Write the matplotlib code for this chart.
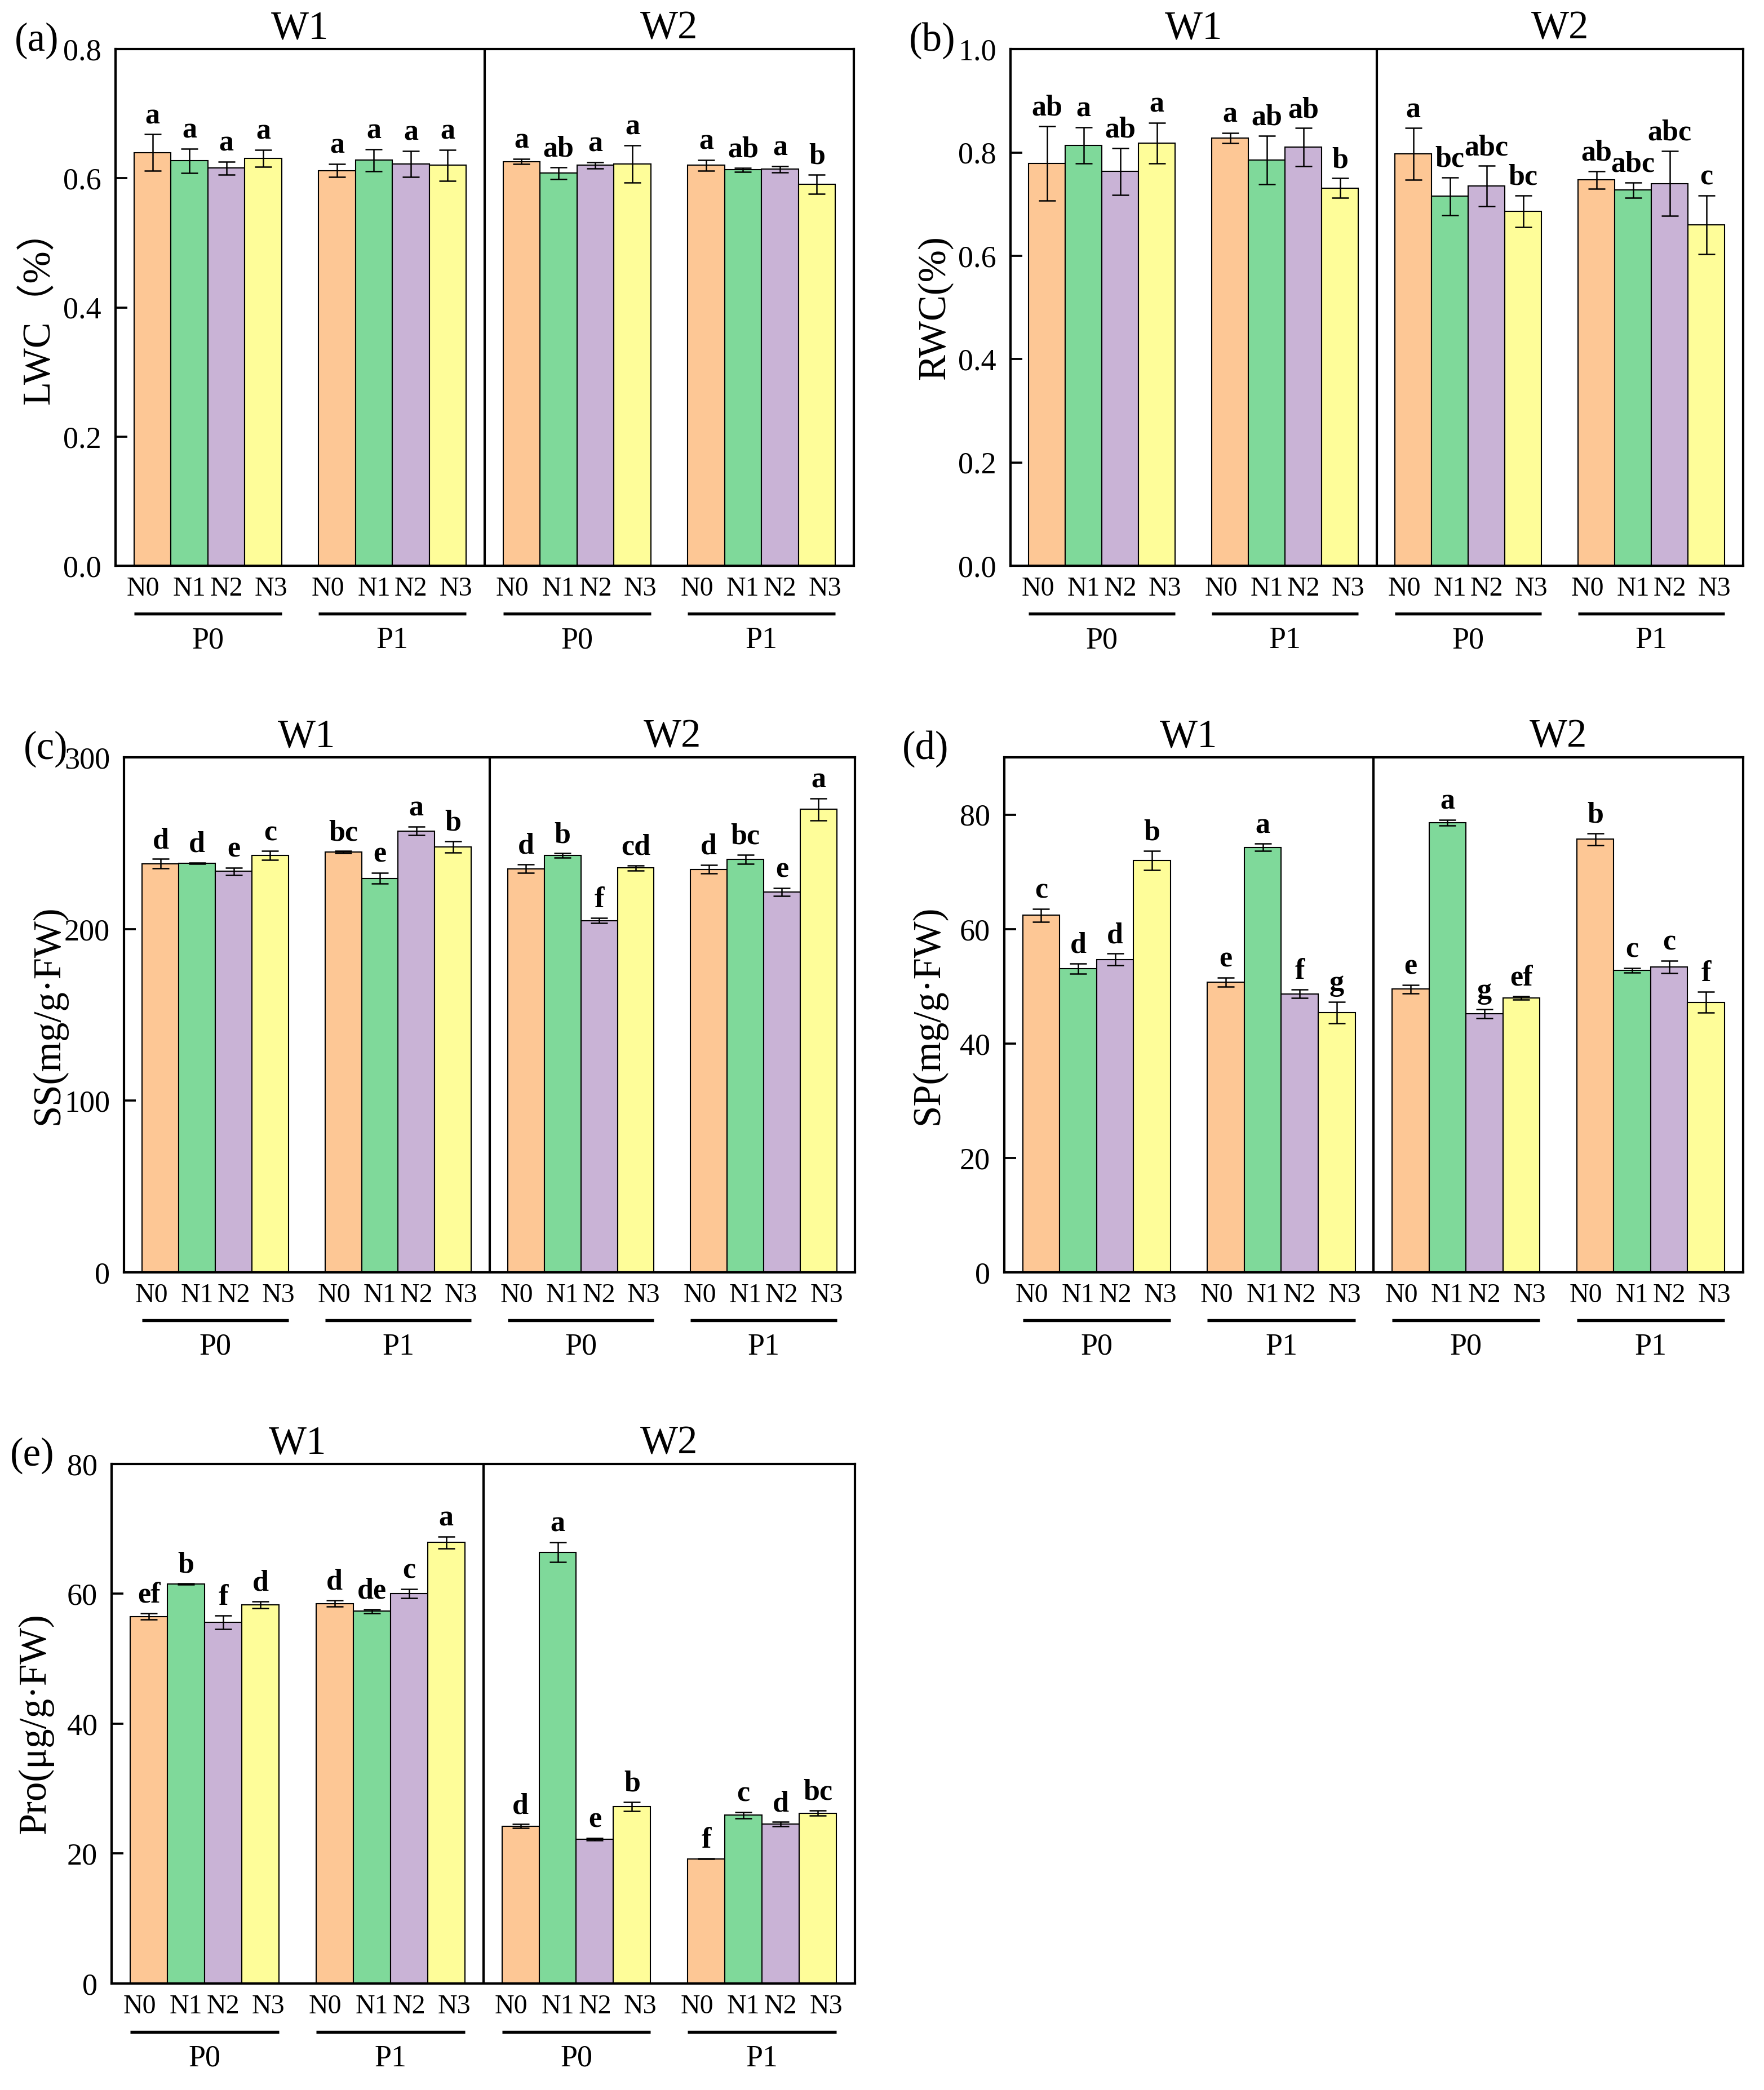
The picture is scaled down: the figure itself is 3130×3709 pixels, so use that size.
import numpy as np
import matplotlib
matplotlib.use('Agg')
import matplotlib.pyplot as plt

plt.rcParams['font.family'] = ['Liberation Serif', 'Noto Sans CJK SC']

n_levels = ['N0', 'N1', 'N2', 'N3']
p_levels = ['P0', 'P1', 'P0', 'P1']
w_levels = ['W1', 'W2']
bar_colors = ['#FDC795', '#7FD99A', '#C9B3D6', '#FEFD99']

# values in order W1P0 N0-N3, W1P1 N0-N3, W2P0 N0-N3, W2P1 N0-N3
lwc_mean = [0.640, 0.627, 0.616, 0.631, 0.612, 0.628, 0.622, 0.620,
            0.626, 0.608, 0.620, 0.622, 0.620, 0.613, 0.614, 0.591]
lwc_err = [0.028, 0.019, 0.010, 0.013, 0.010, 0.017, 0.020, 0.024,
           0.004, 0.009, 0.005, 0.029, 0.008, 0.003, 0.005, 0.015]
lwc_sig = ['a', 'a', 'a', 'a', 'a', 'a', 'a', 'a',
           'a', 'ab', 'a', 'a', 'a', 'ab', 'a', 'b']

rwc_mean = [0.779, 0.814, 0.763, 0.818, 0.828, 0.785, 0.810, 0.731,
            0.797, 0.715, 0.735, 0.686, 0.747, 0.727, 0.740, 0.660]
rwc_err = [0.072, 0.035, 0.045, 0.039, 0.010, 0.047, 0.037, 0.019,
           0.050, 0.037, 0.039, 0.031, 0.017, 0.015, 0.063, 0.057]
rwc_sig = ['ab', 'a', 'ab', 'a', 'a', 'ab', 'ab', 'b',
           'a', 'bc', 'abc', 'bc', 'ab', 'abc', 'abc', 'c']

ss_mean = [238.1, 238.3, 233.6, 242.9, 244.9, 229.6, 257.1, 247.9,
           235.1, 242.9, 205.0, 235.6, 234.8, 240.6, 221.6, 269.7]
ss_err = [2.7, 0.3, 2.0, 2.5, 0.5, 3.2, 2.5, 3.2,
          2.5, 1.2, 1.5, 1.5, 2.5, 2.7, 2.3, 6.3]
ss_sig = ['d', 'd', 'e', 'c', 'bc', 'e', 'a', 'b',
          'd', 'b', 'f', 'cd', 'd', 'bc', 'e', 'a']

sp_mean = [62.4, 53.1, 54.7, 72.0, 50.7, 74.3, 48.7, 45.4,
           49.5, 78.6, 45.2, 48.0, 75.7, 52.8, 53.4, 47.2]
sp_err = [1.1, 0.9, 1.0, 1.7, 0.8, 0.6, 0.7, 1.9,
          0.7, 0.5, 0.8, 0.3, 1.0, 0.4, 1.1, 1.8]
sp_sig = ['c', 'd', 'd', 'b', 'e', 'a', 'f', 'g',
          'e', 'a', 'g', 'ef', 'b', 'c', 'c', 'f']

pro_mean = [56.5, 61.5, 55.6, 58.3, 58.5, 57.3, 60.0, 67.9,
            24.2, 66.4, 22.2, 27.2, 19.2, 25.9, 24.5, 26.2]
pro_err = [0.5, 0.1, 1.0, 0.5, 0.5, 0.3, 0.7, 0.9,
           0.3, 1.5, 0.2, 0.7, 0.05, 0.5, 0.35, 0.4]
pro_sig = ['ef', 'b', 'f', 'd', 'd', 'de', 'c', 'a',
           'd', 'a', 'e', 'b', 'f', 'c', 'd', 'bc']

panels = [
    # tag, ylabel, mean, err, sig, ylim, yticks, fmt, rect
    ('(a)', 'LWC（%）', lwc_mean, lwc_err, lwc_sig, 0.8,
     np.arange(0, 0.81, 0.2), '{:.1f}', [0.0655, 0.7293, 0.4185, 0.2472]),
    ('(b)', 'RWC(%)', rwc_mean, rwc_err, rwc_sig, 1.0,
     np.arange(0, 1.01, 0.2), '{:.1f}', [0.5728, 0.7293, 0.4153, 0.2472]),
    ('(c)', 'SS(mg/g·FW)', ss_mean, ss_err, ss_sig, 300,
     np.arange(0, 301, 100), '{:.0f}', [0.0703, 0.3912, 0.4144, 0.2464]),
    ('(d)', 'SP(mg/g·FW)', sp_mean, sp_err, sp_sig, 90,
     np.arange(0, 81, 20), '{:.0f}', [0.5693, 0.3912, 0.4188, 0.2464]),
    ('(e)', 'Pro(μg/g·FW)', pro_mean, pro_err, pro_sig, 80,
     np.arange(0, 81, 20), '{:.0f}', [0.0633, 0.0510, 0.4214, 0.2486]),
]

fig = plt.figure(figsize=(3130 / 300, 3709 / 300), dpi=300)

group_start = np.arange(4) * 5.0
x = (group_start[:, None] + np.arange(4)[None, :] + 0.5).ravel()
# the N labels in the original sit spread a little outwards in each group
label_shift = np.tile([-0.25, 0.0, 0.0, 0.22], 4)

for tag, ylabel, mean, err, sig, ytop, yticks, fmt, rect in panels:
    ax = fig.add_axes(rect)
    ax.bar(x, mean, width=1.0, color=bar_colors * 4, edgecolor='black',
           linewidth=0.5, yerr=err, capsize=3.5, zorder=2,
           error_kw=dict(elinewidth=0.6, capthick=0.6, ecolor='black'))
    for xi, m, e, s in zip(x, mean, err, sig):
        ax.annotate(s, (xi, m + e), xytext=(0, 2), textcoords='offset points',
                    ha='center', va='bottom', fontsize=12.5, fontweight='bold')

    ax.set_xlim(-0.5, 19.5)
    ax.set_ylim(0, ytop)
    ax.set_yticks(yticks)
    ax.set_yticklabels([fmt.format(v) for v in yticks])
    ax.set_xticks(x + label_shift)
    ax.set_xticklabels(n_levels * 4)
    ax.tick_params(axis='y', direction='in', length=5, width=0.9,
                   labelsize=13, pad=6)
    ax.tick_params(axis='x', length=0, labelsize=11.5, pad=4.5)
    for sp in ax.spines.values():
        sp.set_linewidth(1.0)
    ax.axvline(9.5, color='black', linewidth=1.0, zorder=3)

    ax.set_ylabel(ylabel, fontsize=16.5)
    ax.yaxis.set_label_coords(-0.078, 0.5)

    tr = ax.get_xaxis_transform()
    for gs, p in zip(group_start, p_levels):
        ax.plot([gs, gs + 4], [-0.093, -0.093], color='black', linewidth=1.3,
                transform=tr, clip_on=False, solid_capstyle='butt')
        ax.text(gs + 2, -0.145, p, transform=tr, ha='center', va='center',
                fontsize=13)
    for xc, w in zip([4.5, 14.5], w_levels):
        ax.text(xc, 1.004, w, transform=tr, ha='center', va='bottom',
                fontsize=17)
    ax.text(-0.107, 1.016, tag, transform=ax.transAxes, ha='center',
            va='center', fontsize=17)

fig.savefig('out.png', dpi=300)
